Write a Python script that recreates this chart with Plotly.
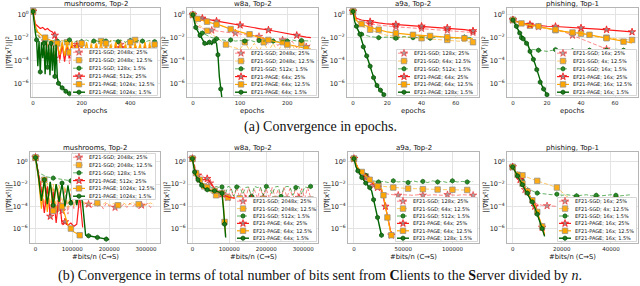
import plotly.graph_objects as go

W, H = 640, 286

# ------------------------------------------------------------------ text
TITLES = ['mushrooms, Top-2', 'w8a, Top-2', 'a9a, Top-2', 'phishing, Top-1']
LEG_MUSH = ['EF21-SGD; 2048x; 25%', 'EF21-SGD; 2048x; 12.5%', 'EF21-SGD; 128x; 1.5%',
            'EF21-PAGE; 512x; 25%', 'EF21-PAGE; 1024x; 12.5%', 'EF21-PAGE; 1024x; 1.5%']
LEG_W8A = ['EF21-SGD; 2048x; 25%', 'EF21-SGD; 2048x; 12.5%', 'EF21-SGD; 512x; 1.5%',
           'EF21-PAGE; 64x; 25%', 'EF21-PAGE; 64x; 12.5%', 'EF21-PAGE; 64x; 1.5%']
LEG_A9A = ['EF21-SGD; 128x; 25%', 'EF21-SGD; 64x; 12.5%', 'EF21-SGD; 512x; 1.5%',
           'EF21-PAGE; 64x; 25%', 'EF21-PAGE; 64x; 12.5%', 'EF21-PAGE; 128x; 1.5%']
LEG_PHI = ['EF21-SGD; 16x; 25%', 'EF21-SGD; 4x; 12.5%', 'EF21-SGD; 16x; 1.5%',
           'EF21-PAGE; 16x; 25%', 'EF21-PAGE; 16x; 12.5%', 'EF21-PAGE; 16x; 1.5%']
EPOCH_TICKS = [[0, 200, 400], [0, 100, 200], [0, 20, 40, 60], [0, 20, 40, 60]]
BITS_TICKS = [[0, 100000, 200000, 300000], [0, 100000, 200000, 300000],
              [0, 50000, 100000], [0, 20000, 40000]]
Y_TICKS = [1, 1e-2, 1e-4, 1e-6]
Y_TICKTEXT = ['10<sup>0</sup>', '10<sup>\u22122</sup>', '10<sup>\u22124</sup>', '10<sup>\u22126</sup>']

# ------------------------------------------------------------------ data (log10 of ||grad f||^2)
# --- mushrooms, epochs
A1_X10 = [0, 10, 20, 30, 40, 50, 60, 70, 80, 90, 100, 110, 120, 130, 140, 150, 160, 170, 180, 190,
          200, 210, 220, 230, 240, 250, 260, 270, 280, 290, 300, 310, 320, 330, 340, 350, 360, 370,
          380, 390, 400, 410, 420, 430, 440, 450, 460, 470, 480, 490, 500]
A1_X5 = [0, 5, 10, 15, 20, 25, 30, 35, 40, 45, 50, 55, 60, 65, 70, 75, 80, 85, 90, 95, 100, 105,
         110, 115, 120, 125, 130, 135, 140, 145, 150]
A1_SGD25 = [0.3, -0.9, -1.6, -2.0, -2.4, -3.6, -2.5, -4.0, -2.6, -3.8,
            -2.5, -4.2, -2.7, -3.9, -2.6, -4.3, -2.8, -3.7, -2.6, -4.1,
            -2.7, -4.2, -2.9, -3.9, -2.7, -4.3, -2.8, -4.0, -2.6, -4.4,
            -2.9, -4.1, -2.7, -4.2, -2.8, -4.0, -2.6, -4.3, -2.9, -4.1,
            -2.7, -4.4, -2.8, -4.0, -2.6, -4.2, -2.9, -4.3, -2.7, -4.1, -3.0]
A1_SGD125 = [0.3, -1.1, -1.7, -2.0, -2.2, -3.5, -2.3, -3.6, -2.2, -3.4,
             -2.3, -3.7, -2.2, -3.5, -2.4, -3.6, -2.2, -3.3, -2.3, -3.7,
             -2.2, -3.5, -2.4, -3.6, -2.3, -3.4, -2.2, -3.7, -2.3, -3.5,
             -2.4, -3.6, -2.2, -3.4, -2.3, -3.7, -2.2, -3.5, -2.4, -3.6,
             -2.3, -3.3, -2.2, -3.7, -2.3, -3.5, -2.4, -3.6, -2.2, -3.4, -2.3]
A1_SGD15 = [0.3, -1.2, -1.8, -2.1, -2.2, -2.3, -2.25, -2.35, -2.3, -2.2,
            -2.3, -2.4, -2.25, -2.3, -2.35, -2.2, -2.3, -2.4, -2.3, -2.25,
            -2.35, -2.3, -2.2, -2.3, -2.4, -2.3, -2.25, -2.35, -2.3, -2.2,
            -2.3, -2.4, -2.3, -2.25, -2.3, -2.35, -2.2, -2.3, -2.4, -2.3,
            -2.25, -2.3, -2.35, -2.3, -2.2, -2.3, -2.4, -2.3, -2.25, -2.3, -2.35]
A1_PAGE25 = [0.3, -0.8, -1.0, -1.2, -1.1, -1.3, -1.2, -1.4, -1.5, -1.8,
             -2.5, -3.9, -2.6, -4.1, -2.7, -3.8, -2.6, -4.0, -2.8, -4.2,
             -2.7, -3.9, -2.9, -4.3, -2.8, -4.0, -2.6, -4.2, -2.9, -3.9,
             -2.7, -4.3, -2.8, -4.1, -2.6, -4.0, -2.9, -4.2, -2.7, -3.9,
             -2.8, -4.3, -2.6, -4.1, -2.9, -4.0, -2.7, -4.2, -2.8, -3.9, -2.9]
A1_PAGE125 = [0.3, -1.0, -1.5, -1.7, -1.9, -2.0, -2.1, -2.2, -2.3, -2.4,
              -2.5, -3.5, -2.4, -3.6, -2.5, -3.3, -2.4, -3.7, -2.6, -3.4,
              -2.5, -3.6, -2.4, -3.5, -2.6, -3.7, -2.5, -3.4, -2.4, -3.6,
              -2.5, -3.5, -2.6, -3.7, -2.4, -3.4, -2.5, -3.6, -2.6, -3.5,
              -2.4, -3.7, -2.5, -3.4, -2.6, -3.6, -2.4, -3.5, -2.5, -3.7, -2.6]
A1_PAGE15 = [0.3, -1.0, -1.6, -2.2, -4.5, -2.3, -5.0, -2.4, -3.8, -2.5,
             -5.2, -2.4, -4.6, -2.6, -5.3, -2.5, -4.9, -2.7, -5.4, -2.6,
             -5.5, -6.0, -6.2, -6.3, -6.4, -6.5, -6.6, -6.7, -6.8, -6.85, -6.9]

# --- w8a, epochs
A2_X = [0, 5, 10, 20, 30, 40, 50, 60, 80, 100, 120, 140, 160, 180, 200, 220, 240, 250]
A2_XD = [0, 5, 10, 20, 30, 40, 50, 60, 70, 80, 90, 100, 110, 120, 130, 140, 150, 160, 170, 180,
         190, 200, 210, 220, 230, 240, 250]
A2_XP = [0, 3, 6, 10, 15, 20, 25, 30, 35, 40, 45, 50, 53, 56, 59, 62]
A2_SGD25 = [0, -0.7, -1.0, -1.2, -1.3, -1.35, -1.4, -1.45, -1.5, -1.55,
            -1.6, -1.65, -1.7, -1.75, -1.8, -1.9, -2.0, -2.6, -2.1, -2.7,
            -2.2, -2.8, -2.3, -2.9, -2.4, -2.8, -2.6]
A2_SGD125 = [0, -0.5, -0.8, -1.1, -1.4, -1.7, -2.0, -2.3, -2.6, -2.8,
             -2.9, -3.0, -2.4, -3.1, -2.5, -3.2, -2.4, -3.2, -2.5, -3.3,
             -2.4, -3.3, -2.6, -3.35, -2.5, -3.4, -3.4]
A2_SGD15 = [0, -0.8, -1.2, -1.6, -1.8, -2.0, -2.1, -2.2, -2.25, -2.2,
            -2.3, -2.25, -2.3, -2.2, -2.35, -2.25, -2.3, -2.2, -2.3, -2.35,
            -2.25, -2.3, -2.2, -2.3, -2.25, -2.3, -2.3]
A2_PAGE25 = [0, -0.15, -0.2, -0.3, -0.38, -0.45, -0.55, -0.62, -0.78, -0.9,
             -1.05, -1.2, -1.33, -1.5, -1.65, -1.8, -1.95, -2.0]
A2_PAGE125 = [0, -0.2, -0.35, -0.5, -0.6, -0.75, -0.85, -0.95, -1.25, -1.5,
              -1.7, -1.95, -2.2, -2.4, -2.6, -2.8, -2.95, -3.0]
A2_PAGE15 = [0, -0.7, -1.1, -1.4, -1.8, -2.1, -2.5, -2.6, -2.4, -2.6,
             -2.3, -2.5, -3.5, -5.4, -6.5, -7.5]

# --- a9a, epochs
A3_XL = [0, 2, 5, 10, 15, 20, 25, 30, 35, 40, 45, 50, 55, 60, 65, 70]
A3_XP = [0, 1, 2, 3, 4, 5, 6, 7, 8, 9, 10, 11, 12, 13, 14, 15, 16, 17, 18]
A3_SGD25 = [0.3, -0.4, -0.6, -0.8, -0.9, -1.0, -1.05, -1.1, -1.15, -1.2, -1.25, -1.3, -1.35, -1.4, -1.5, -1.55]
A3_SGD125 = [0.3, -0.6, -1.0, -1.3, -1.6, -1.8, -1.9, -1.95, -2.0, -2.05, -2.1, -2.15, -2.2, -2.25, -2.3, -2.4]
A3_SGD15 = [0.3, -1.2, -1.7, -1.9, -2.0, -1.95, -2.05, -1.9, -2.0, -1.95, -2.05, -1.9, -2.0, -2.05, -1.95, -2.0]
A3_PAGE25 = [0.3, -0.3, -0.45, -0.6, -0.7, -0.8, -0.85, -0.9, -0.95, -1.0, -1.05, -1.1, -1.15, -1.2, -1.3, -1.4]
A3_PAGE125 = [0.3, -0.5, -0.8, -1.1, -1.3, -1.5, -1.6, -1.7, -1.75, -1.8, -1.85, -1.9, -1.95, -2.0, -2.05, -2.1]
A3_PAGE15 = [0.3, -0.6, -1.0, -1.3, -1.7, -2.2, -2.8, -3.2, -3.6, -4.0, -4.5, -5.0, -5.5, -5.9, -6.2,
             -6.4, -6.6, -6.8, -7.0]

# --- phishing, epochs
A4_XL = [0, 2, 5, 10, 15, 20, 25, 30, 35, 40, 45, 50, 55, 60, 65, 70]
A4_XP = [0, 1, 2, 3, 4, 5, 6, 7, 8, 9, 10, 11, 12, 13, 14, 15, 16, 17, 18, 19, 20]
A4_SGD25 = [-0.45, -0.6, -0.8, -0.95, -1.05, -1.15, -1.3, -1.5, -1.8, -2.1, -2.4, -2.7, -3.0, -3.3, -3.5, -3.7]
A4_SGD125 = [-0.45, -0.65, -0.8, -0.95, -1.05, -1.2, -1.35, -1.5, -1.6, -1.65, -1.8, -1.95, -2.0, -2.1, -2.15, -2.2]
A4_SGD15 = [-0.45, -1.2, -2.0, -3.0, -3.1, -3.2, -3.05, -3.1, -3.15, -3.05, -3.1, -3.2, -3.1, -3.0, -3.1, -3.05]
A4_PAGE25 = [-0.45, -0.55, -0.7, -0.85, -0.95, -1.0, -1.02, -1.05, -1.1, -1.15, -1.2, -1.25, -1.3, -1.4, -1.45, -1.5]
A4_PAGE125 = [-0.45, -0.6, -0.75, -0.9, -1.0, -1.15, -1.3, -1.45, -1.55, -1.6, -1.75, -1.9, -2.05, -2.2, -2.35, -2.45]
A4_PAGE15 = [-0.45, -0.7, -1.0, -1.3, -1.6, -1.8, -2.1, -2.3, -2.5, -2.7, -3.2, -3.5, -3.9, -4.3, -4.8,
             -5.3, -5.9, -6.2, -6.5, -6.8, -7.0]

# --- mushrooms, bits (x in thousands of bits/n)
B1_XK = [0, 8, 16, 24, 32, 40, 48, 56, 64, 72, 80, 88, 96, 104, 112, 120, 128, 136, 144, 152,
         160, 168, 176, 184, 192, 200, 208, 216, 224, 232, 240, 248, 256, 264, 272, 280, 288, 296,
         304, 312, 320]
B1_SGD25 = [0.4, -1.0, -2.2, -4.5, -2.5, -4.8, -2.3, -4.6, -2.6, -4.4,
            -2.4, -4.7, -2.8, -4.2, -3.2, -4.1, -3.6, -4.0, -3.8, -4.1,
            -3.7, -4.0, -3.8, -4.2, -3.7, -4.0, -3.9, -4.1, -3.7, -4.0,
            -3.8, -4.1, -3.7, -4.0, -3.8, -4.2, -3.9, -4.0, -3.7, -4.1, -3.9]
B1_SGD125 = [0.4, -1.2, -1.8, -3.8, -1.9, -4.0, -2.0, -4.2, -2.1, -3.9,
             -2.2, -4.1, -2.4, -4.0, -3.0, -3.9, -3.5, -3.8, -3.7, -3.9,
             -3.8, -3.7, -3.9, -3.8, -3.6, -3.9, -3.8, -3.7, -3.9, -3.8,
             -3.7, -3.9, -3.8, -3.6, -3.9, -3.8, -3.7, -3.9, -3.8, -3.7, -3.8]
B1_SGD15 = [0.4, -0.9, -1.1, -1.25, -1.35, -1.4, -1.45, -1.5, -1.55, -1.6,
            -1.62, -1.65, -1.7, -1.72, -1.75, -1.78, -1.8, -1.82, -1.85, -1.87,
            -1.9, -1.92, -1.94, -1.95, -1.97, -1.98, -2.0, -2.0, -2.02, -2.03,
            -2.04, -2.05, -2.05, -2.06, -2.07, -2.08, -2.08, -2.09, -2.1, -2.1, -2.1]
B1_PAGE25 = [0.4, -1.2, -2.5, -4.6, -2.2, -4.9, -2.7, -5.5, -3.0, -5.6,
             -5.4, -5.7, -5.5, -5.8, -5.6, -3.0, -5.9]
B1_PAGE125 = [0.4, -1.5, -4.2, -1.6, -4.5, -1.8, -4.4, -2.0, -3.5, -4.0,
              -4.8, -5.7, -6.0, -6.3, -6.45, -6.6]
B1_PAGE15 = [0.4, -1.3, -3.5, -1.6, -3.8, -1.8, -3.9, -2.0, -3.6, -1.9,
             -4.0, -2.1, -3.7, -2.0, -3.9, -2.2, -3.8, -6.6, -6.65, -6.7,
             -6.75, -6.8, -6.85, -6.9, -6.95, -7.0]

# --- w8a, bits
B2_XK = B1_XK
B2_XP25 = [0, 5, 10, 15, 20, 30, 40, 50, 60, 80, 100, 130, 160, 200]
B2_XP125 = [0, 5, 10, 15, 20, 30, 40, 50, 60, 70, 80, 84, 87, 90]
B2_XP15 = [0, 3, 6, 10, 15, 20, 25, 30, 40, 50, 60, 70, 80, 84, 87, 90]
B2_SGD25 = [0.3, -0.5, -0.9, -1.2, -1.4, -1.6, -1.9, -2.2, -2.4, -2.6,
            -2.8, -2.5, -3.2, -2.4, -3.3, -2.3, -3.2, -2.4, -3.3, -2.3,
            -3.2, -2.5, -3.3, -2.3, -3.2, -2.4, -3.3, -2.3, -3.2, -2.5,
            -3.3, -2.3, -3.2, -2.4, -3.3, -2.3, -3.2, -2.4, -3.3, -2.3, -3.2]
B2_SGD125 = [0.3, -0.7, -1.3, -1.8, -2.2, -2.5, -2.7, -2.9, -3.0, -3.1,
             -3.15, -3.2, -3.2, -3.22, -3.25, -3.25, -3.27, -3.28, -3.3, -3.3,
             -3.3, -3.32, -3.3, -3.32, -3.33, -3.33, -3.34, -3.34, -3.35, -3.35,
             -3.35, -3.36, -3.36, -3.36, -3.37, -3.37, -3.37, -3.38, -3.38, -3.38, -3.38]
B2_SGD15 = [0.3, -0.8, -1.4, -1.9, -2.2, -2.3, -2.25, -2.3, -2.2, -2.3,
            -2.25, -3.0, -2.2, -2.3, -3.1, -2.25, -2.2, -2.9, -2.3, -2.25,
            -3.1, -2.2, -2.3, -2.25, -3.0, -2.2, -2.3, -2.9, -2.25, -2.2,
            -3.1, -2.3, -2.2, -2.25, -3.0, -2.3, -2.2, -2.9, -2.25, -2.3, -2.2]
B2_PAGE25 = [0.3, -0.5, -0.9, -1.2, -1.4, -1.6, -1.5, -1.9, -2.4, -2.9, -3.2, -3.3, -3.35, -3.4]
B2_PAGE125 = [0.3, -0.6, -1.0, -1.3, -1.6, -2.0, -2.3, -2.5, -2.6, -2.7, -2.8, -4.0, -5.4, -6.6]
B2_PAGE15 = [0.3, -0.5, -0.9, -1.3, -1.6, -1.9, -2.1, -2.3, -2.5, -2.6, -2.6, -2.7, -2.8, -4.2, -5.6, -6.8]

# --- a9a, bits
B3_XK = [0, 4, 8, 12, 16, 20, 25, 30, 35, 40, 45, 50, 55, 60, 65, 70, 75, 80, 85, 90, 95, 100,
         105, 110, 115, 121]
B3_XP = [0, 4, 8, 12, 16, 20, 24, 28, 30, 32, 34, 36, 38]
B3_XP15 = [0, 2, 4, 6, 8, 10, 12, 14, 16, 18, 20, 22, 24, 26, 28]
B3_SGD25 = [0.3, -0.6, -1.0, -1.4, -1.8, -2.1, -2.5, -2.8, -2.9, -2.95, -3.0, -2.95, -3.0,
            -3.0, -2.95, -3.0, -3.0, -2.95, -3.0, -3.0, -2.95, -3.0, -3.0, -2.95, -3.0, -3.0]
B3_SGD125 = [0.3, -0.5, -0.9, -1.3, -1.6, -1.9, -2.1, -2.2, -2.25, -2.3, -2.3, -2.35, -2.4,
             -2.4, -2.42, -2.45, -2.45, -2.47, -2.48, -2.5, -2.5, -2.5, -2.5, -2.52, -2.52, -2.55]
B3_SGD15 = [0.3, -0.5, -0.9, -1.2, -1.5, -1.7, -1.8, -1.75, -1.85, -1.7, -1.8, -1.75, -1.85,
            -1.7, -1.8, -1.75, -1.85, -1.7, -1.8, -1.75, -1.85, -1.7, -1.8, -1.75, -1.8, -1.75]
B3_PAGE25 = [0.3, -0.6, -1.0, -1.4, -1.7, -2.0, -2.3, -2.5, -3.2, -4.0, -4.8, -5.7, -6.6]
B3_PAGE125 = [0.3, -0.5, -0.9, -1.3, -1.6, -1.9, -2.2, -2.4, -3.0, -4.0, -5.0, -5.8, -6.6]
B3_PAGE15 = [0.3, -0.4, -0.8, -1.1, -1.4, -1.7, -1.9, -2.1, -2.3, -2.6, -3.4, -4.2, -5.0, -5.8, -6.6]

# --- phishing, bits
B4_XK = [0, 1, 2, 3, 4, 5, 6, 8, 10, 12, 14, 16, 18, 20, 22, 24, 26, 28, 30, 32, 34, 36, 38, 40,
         42, 44, 46, 48]
B4_XP = [0, 1, 2, 3, 4, 5, 6, 7, 8, 9, 10, 11, 12, 13]
B4_SGD25 = [-0.45, -0.8, -1.2, -1.6, -2.0, -2.5, -3.0, -3.5, -3.8, -3.9, -3.95, -4.0, -4.0, -4.0,
            -4.05, -4.0, -4.05, -4.0, -4.05, -4.0, -4.05, -4.0, -4.0, -4.05, -4.0, -4.05, -4.0, -4.05]
B4_SGD125 = [-0.45, -0.7, -0.9, -1.1, -1.2, -1.3, -1.4, -1.55, -1.7, -1.85, -1.95, -2.1, -2.3, -2.7,
             -3.1, -3.25, -3.3, -3.3, -3.32, -3.3, -3.33, -3.3, -3.32, -3.33, -3.3, -3.32, -3.33, -3.35]
B4_SGD15 = [-0.45, -0.8, -1.1, -1.4, -1.7, -2.0, -2.3, -2.6, -2.8, -2.85, -2.9, -2.95, -2.9, -3.0,
            -2.95, -3.0, -3.05, -3.0, -2.95, -3.05, -3.0, -3.05, -3.0, -2.95, -3.0, -3.05, -3.0, -2.95]
B4_PAGE25 = [-0.45, -0.8, -1.2, -1.6, -2.0, -2.3, -2.7, -3.1, -3.5, -4.0, -4.6, -5.2, -5.9, -6.6]
B4_PAGE125 = [-0.45, -0.8, -1.15, -1.55, -1.95, -2.25, -2.65, -3.05, -3.45, -3.9, -4.5, -5.1, -5.8, -6.5]
B4_PAGE15 = [-0.45, -0.85, -1.25, -1.65, -2.05, -2.4, -2.8, -3.2, -3.6, -4.1, -4.7, -5.3, -6.0, -6.7]

KEYS = ['SGD25', 'SGD125', 'SGD15', 'PAGE25', 'PAGE125', 'PAGE15']

PANELS = [
    dict(data={'SGD25': (A1_X10, A1_SGD25), 'SGD125': (A1_X10, A1_SGD125), 'SGD15': (A1_X10, A1_SGD15),
               'PAGE25': (A1_X10, A1_PAGE25), 'PAGE125': (A1_X10, A1_PAGE125), 'PAGE15': (A1_X5, A1_PAGE15)},
         scale=1, xr=[-8, 522], ticks=EPOCH_TICKS[0], leg=LEG_MUSH,
         mk=[9, 7, 5, 9, 5, 3]),
    dict(data={'SGD25': (A2_XD, A2_SGD25), 'SGD125': (A2_XD, A2_SGD125), 'SGD15': (A2_XD, A2_SGD15),
               'PAGE25': (A2_X, A2_PAGE25), 'PAGE125': (A2_X, A2_PAGE125), 'PAGE15': (A2_XP, A2_PAGE15)},
         scale=1, xr=[-12.5, 265], ticks=EPOCH_TICKS[1], leg=LEG_W8A,
         mk=[5, 4, 3, 3, 2, 2]),
    dict(data={'SGD25': (A3_XL, A3_SGD25), 'SGD125': (A3_XL, A3_SGD125), 'SGD15': (A3_XL, A3_SGD15),
               'PAGE25': (A3_XL, A3_PAGE25), 'PAGE125': (A3_XL, A3_PAGE125), 'PAGE15': (A3_XP, A3_PAGE15)},
         scale=1, xr=[-3.5, 73.5], ticks=EPOCH_TICKS[2], leg=LEG_A9A,
         mk=[3, 3, 2, 3, 2, 2]),
    dict(data={'SGD25': (A4_XL, A4_SGD25), 'SGD125': (A4_XL, A4_SGD125), 'SGD15': (A4_XL, A4_SGD15),
               'PAGE25': (A4_XL, A4_PAGE25), 'PAGE125': (A4_XL, A4_PAGE125), 'PAGE15': (A4_XP, A4_PAGE15)},
         scale=1, xr=[-3.5, 73.5], ticks=EPOCH_TICKS[3], leg=LEG_PHI,
         mk=[4, 3, 2, 3, 2, 2]),
    dict(data={'SGD25': (B1_XK, B1_SGD25), 'SGD125': (B1_XK, B1_SGD125), 'SGD15': (B1_XK, B1_SGD15),
               'PAGE25': (B1_XK, B1_PAGE25), 'PAGE125': (B1_XK, B1_PAGE125), 'PAGE15': (B1_XK, B1_PAGE15)},
         scale=1000, xr=[-15000, 338000], ticks=BITS_TICKS[0], leg=LEG_MUSH,
         mk=[9, 7, 6, 5, 3, 3]),
    dict(data={'SGD25': (B2_XK, B2_SGD25), 'SGD125': (B2_XK, B2_SGD125), 'SGD15': (B2_XK, B2_SGD15),
               'PAGE25': (B2_XP25, B2_PAGE25), 'PAGE125': (B2_XP125, B2_PAGE125), 'PAGE15': (B2_XP15, B2_PAGE15)},
         scale=1000, xr=[-12000, 340000], ticks=BITS_TICKS[1], leg=LEG_W8A,
         mk=[6, 4, 5, 3, 2, 2]),
    dict(data={'SGD25': (B3_XK, B3_SGD25), 'SGD125': (B3_XK, B3_SGD125), 'SGD15': (B3_XK, B3_SGD15),
               'PAGE25': (B3_XP, B3_PAGE25), 'PAGE125': (B3_XP, B3_PAGE125), 'PAGE15': (B3_XP15, B3_PAGE15)},
         scale=1000, xr=[-6000, 127000], ticks=BITS_TICKS[2], leg=LEG_A9A,
         mk=[5, 3, 3, 3, 2, 2]),
    dict(data={'SGD25': (B4_XK, B4_SGD25), 'SGD125': (B4_XK, B4_SGD125), 'SGD15': (B4_XK, B4_SGD15),
               'PAGE25': (B4_XP, B4_PAGE25), 'PAGE125': (B4_XP, B4_PAGE125), 'PAGE15': (B4_XP, B4_PAGE15)},
         scale=1000, xr=[-2300, 51000], ticks=BITS_TICKS[3], leg=LEG_PHI,
         mk=[5, 4, 4, 3, 2, 2]),
]

# ------------------------------------------------------------------ styles
DASH = '4px,2px'
STYLE = {
    'SGD25': dict(color='rgba(255,40,40,0.55)', dash=DASH, width=1.0, symbol='star', msize=5.5,
                  mfill='rgba(140,140,140,0.75)', medge='rgba(255,0,0,0.7)'),
    'SGD125': dict(color='rgba(255,165,0,0.6)', dash=DASH, width=1.0, symbol='square', msize=5.5,
                   mfill='rgba(255,165,0,0.9)', medge='#8c8c8c'),
    'SGD15': dict(color='rgba(0,128,0,0.6)', dash=DASH, width=1.0, symbol='hexagon', msize=4.5,
                  mfill='#2a8a2a', medge='#0a5a0a'),
    'PAGE25': dict(color='#ff1a1a', dash='solid', width=1.2, symbol='star', msize=5.5,
                   mfill='rgba(140,140,140,0.85)', medge='#ff0000'),
    'PAGE125': dict(color='#ffa500', dash='solid', width=1.2, symbol='square', msize=5.5,
                    mfill='#ffa500', medge='#8c8c8c'),
    'PAGE15': dict(color='#006400', dash='solid', width=1.4, symbol='hexagon', msize=4.5,
                   mfill='#1f7a1f', medge='#004d00'),
}

# ------------------------------------------------------------------ geometry (pixels)
COLS = [[(31, 160), (187, 318), (347, 479), (507, 638)],
        [(30, 160), (188, 318), (348, 479), (507, 638)]]
ROWS = [(8, 97), (152, 243)]
YRANGE = [[-7.2, 0.6], [-7.3, 0.9]]
LEGBOX = [(71, 158, 48, 96), (233, 317, 49, 96), (396, 478, 49, 96), (555, 637, 49, 96),
          (71, 156, 153, 200), (235, 317, 197, 242), (395, 478, 197, 242), (557, 637, 197, 242)]

FONT = 'DejaVu Sans'
fig = go.Figure()
layout = dict(width=W, height=H, margin=dict(l=0, r=0, t=0, b=0), paper_bgcolor='white',
              plot_bgcolor='white', showlegend=False, hovermode=False)
annotations = []


def px(x):
    return x / W


def py(y):
    return 1 - y / H


# main panels
for p, pan in enumerate(PANELS):
    row, col = divmod(p, 4)
    n_ax = p + 1
    xa = 'x' if n_ax == 1 else 'x%d' % n_ax
    ya = 'y' if n_ax == 1 else 'y%d' % n_ax
    (x0, x1), (y0, y1) = COLS[row][col], ROWS[row]
    for k, key in enumerate(KEYS):
        xs, ys = pan['data'][key]
        n = min(len(xs), len(ys))
        xv = [v * pan['scale'] for v in xs[:n]]
        yv = [10 ** v for v in ys[:n]]
        st = STYLE[key]
        fig.add_trace(go.Scatter(x=xv, y=yv, mode='lines', xaxis=xa, yaxis=ya, hoverinfo='skip',
                                 line=dict(color=st['color'], width=st['width'], dash=st['dash'])))
        step = pan['mk'][k]
        fig.add_trace(go.Scatter(x=xv[::step], y=yv[::step], mode='markers', xaxis=xa, yaxis=ya,
                                 hoverinfo='skip',
                                 marker=dict(symbol=st['symbol'], size=st['msize'], color=st['mfill'],
                                             line=dict(color=st['medge'], width=0.7))))
    axcommon = dict(showgrid=True, gridcolor='#e3e3e3', gridwidth=0.8, showline=True, mirror=True,
                    linecolor='#b5b5b5', linewidth=1, ticks='', zeroline=False)
    layout['xaxis' if n_ax == 1 else 'xaxis%d' % n_ax] = dict(
        domain=[px(x0), px(x1)], range=pan['xr'], anchor=ya, tickmode='array',
        tickvals=pan['ticks'], ticktext=[str(t) for t in pan['ticks']],
        tickfont=dict(family=FONT, size=5.5, color='#222'), **axcommon)
    layout['yaxis' if n_ax == 1 else 'yaxis%d' % n_ax] = dict(
        domain=[py(y1), py(y0)], type='log', range=YRANGE[row], anchor=xa, tickmode='array',
        tickvals=Y_TICKS, ticktext=Y_TICKTEXT,
        tickfont=dict(family=FONT, size=6.5, color='#222'), **axcommon)
    # title, axis labels
    annotations.append(dict(text=TITLES[col], x=px((x0 + x1) / 2), y=py(y0 - 4), xref='paper',
                            yref='paper', showarrow=False, xanchor='center', yanchor='middle',
                            font=dict(family=FONT, size=7, color='#111')))
    xlabel = 'epochs' if row == 0 else '#bits/n (C\u2192S)'
    annotations.append(dict(text=xlabel, x=px((x0 + x1) / 2), y=py(y1 + 13.5), xref='paper',
                            yref='paper', showarrow=False, xanchor='center', yanchor='middle',
                            font=dict(family=FONT, size=6.8, color='#111')))
    ylabel = '||\u2207f(x<sup>T</sup>)||<sup>2</sup>' if row == 0 else '||\u2207f(x<sup>t</sup>)||<sup>2</sup>'
    annotations.append(dict(text=ylabel, x=px(x0 - 22), y=py((y0 + y1) / 2), xref='paper',
                            yref='paper', showarrow=False, xanchor='center', yanchor='middle',
                            textangle=-90, font=dict(family=FONT, size=7, color='#111')))

# legends (drawn as small overlay subplots in pixel units)
for p, pan in enumerate(PANELS):
    n_ax = 9 + p
    xa, ya = 'x%d' % n_ax, 'y%d' % n_ax
    bx0, bx1, by0, by1 = LEGBOX[p]
    w, h = bx1 - bx0, by1 - by0
    layout['xaxis%d' % n_ax] = dict(domain=[px(bx0), px(bx1)], range=[0, w], anchor=ya, visible=False,
                                    fixedrange=True)
    layout['yaxis%d' % n_ax] = dict(domain=[py(by1), py(by0)], range=[0, h], anchor=xa, visible=False,
                                    fixedrange=True)
    fig.add_trace(go.Scatter(x=[0.5, w - 0.5, w - 0.5, 0.5, 0.5], y=[0.5, 0.5, h - 0.5, h - 0.5, 0.5],
                             mode='lines', fill='toself', fillcolor='rgba(255,255,255,0.72)',
                             line=dict(color='#cccccc', width=0.8), xaxis=xa, yaxis=ya, hoverinfo='skip'))
    spacing = (h - 8.0) / 5.0
    for k, key in enumerate(KEYS):
        st = STYLE[key]
        yc = h - (4.2 + k * spacing)
        fig.add_trace(go.Scatter(x=[2, 14], y=[yc, yc], mode='lines', xaxis=xa, yaxis=ya, hoverinfo='skip',
                                 line=dict(color=st['color'], width=st['width'], dash=st['dash'])))
        fig.add_trace(go.Scatter(x=[8], y=[yc], mode='markers', xaxis=xa, yaxis=ya, hoverinfo='skip',
                                 marker=dict(symbol=st['symbol'], size=st['msize'], color=st['mfill'],
                                             line=dict(color=st['medge'], width=0.7))))
        annotations.append(dict(text=pan['leg'][k], x=px(bx0 + 16), y=py(by0 + 4.2 + k * spacing),
                                xref='paper', yref='paper', showarrow=False, xanchor='left',
                                yanchor='middle', font=dict(family=FONT, size=5, color='#111')))

# captions
SERIF = 'Liberation Serif'
annotations.append(dict(text='(a) Convergence in epochs.', x=0.5, y=py(127), xref='paper', yref='paper',
                        showarrow=False, xanchor='center', yanchor='middle',
                        font=dict(family=SERIF, size=14, color='#111')))
annotations.append(dict(text='(b) Convergence in terms of total number of bits sent from <b>C</b>lients '
                             'to the <b>S</b>erver divided by <i>n</i>.',
                        x=0.5, y=py(276), xref='paper', yref='paper', showarrow=False,
                        xanchor='center', yanchor='middle', font=dict(family=SERIF, size=14, color='#111')))

layout['annotations'] = annotations
fig.update_layout(**layout)
fig.write_html('out.html', config=dict(displayModeBar=False),
               post_script="document.body.style.margin='0';document.body.style.overflow='hidden';")
